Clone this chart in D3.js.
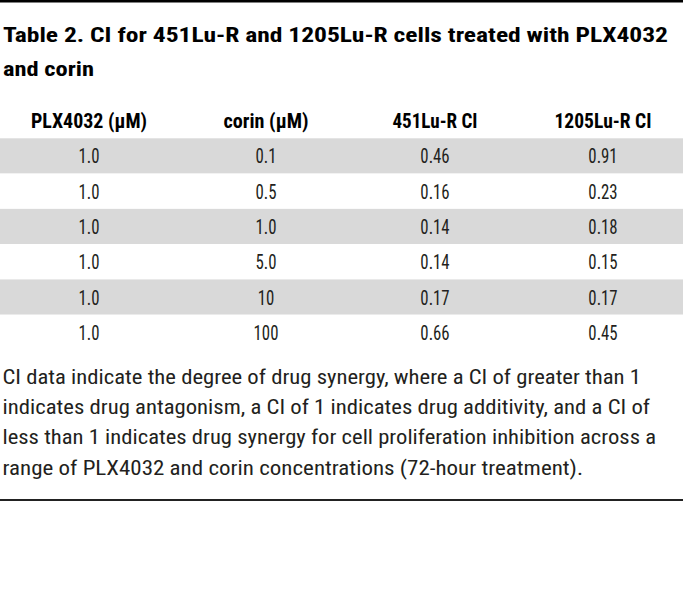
<!DOCTYPE html>
<html><head><meta charset="utf-8">
<script src="https://cdn.jsdelivr.net/npm/d3@7"></script>
<style>body{margin:0;background:#fff} svg{display:block}</style>
</head><body>
<script>
// ---- data ----
const titleLines = ["Table 2. CI for 451Lu-R and 1205Lu-R cells treated with PLX4032", "and corin"];
const columns = ["PLX4032 (µM)", "corin (µM)", "451Lu-R CI", "1205Lu-R CI"];
const plx4032 = ["1.0", "1.0", "1.0", "1.0", "1.0", "1.0"];
const corin = ["0.1", "0.5", "1.0", "5.0", "10", "100"];
const ci451 = ["0.46", "0.16", "0.14", "0.14", "0.17", "0.66"];
const ci1205 = ["0.91", "0.23", "0.18", "0.15", "0.17", "0.45"];
const captionLines = [
  "CI data indicate the degree of drug synergy, where a CI of greater than 1",
  "indicates drug antagonism, a CI of 1 indicates drug additivity, and a CI of",
  "less than 1 indicates drug synergy for cell proliferation inhibition across a",
  "range of PLX4032 and corin concentrations (72-hour treatment)."
];

// ---- layout ----
const W = 683, H = 599;
const FONT = "'Roboto Condensed','Liberation Sans Narrow',Roboto,'Liberation Sans',sans-serif";
const titleWidths = [665, 91];
const headerWidths = [116, 85, 85, 97];
const captionWidths = [638.5, 647.5, 653.5, 580.5];
const cellSqueeze = 0.8;
const FS = 21;

const rows = d3.range(plx4032.length).map(i => [plx4032[i], corin[i], ci451[i], ci1205[i]]);

const svg = d3.select("body").append("svg").attr("width", W).attr("height", H)
  .style("font-family", FONT);

const x = d3.scaleOrdinal().domain(d3.range(columns.length)).range([89, 266, 435, 603]);
const y = d3.scaleBand().domain(d3.range(rows.length)).range([138.3, 350]).padding(0);

// top rule
svg.append("rect").attr("x", 0).attr("y", 0).attr("width", W).attr("height", 2.5).attr("fill", "#000");

// title
svg.selectAll("text.title").data(titleLines).join("text")
  .attr("class", "title")
  .attr("x", 3).attr("y", (d, i) => 42 + i * 34)
  .attr("font-size", FS).attr("font-weight", 700).attr("fill", "#000")
  .attr("textLength", (d, i) => titleWidths[i]).attr("lengthAdjust", "spacingAndGlyphs")
  .text(d => d);

// header
svg.selectAll("text.head").data(columns).join("text")
  .attr("class", "head")
  .attr("x", (d, i) => x(i)).attr("y", 128)
  .attr("text-anchor", "middle")
  .attr("font-size", FS).attr("font-weight", 700).attr("fill", "#000")
  .attr("textLength", (d, i) => headerWidths[i]).attr("lengthAdjust", "spacingAndGlyphs")
  .text(d => d);

// row bands
svg.selectAll("rect.band").data(rows).join("rect")
  .attr("class", "band")
  .attr("x", 0).attr("width", W)
  .attr("y", (d, i) => y(i)).attr("height", y.bandwidth())
  .attr("fill", (d, i) => i % 2 === 0 ? "#d9d9d9" : "#fff");

// cells
const rowG = svg.selectAll("g.row").data(rows).join("g")
  .attr("class", "row")
  .attr("transform", (d, i) => `translate(0,${y(i) + y.bandwidth() / 2 + 7.5})`);
rowG.selectAll("text").data(d => d).join("text")
  .attr("x", (d, i) => x(i)).attr("y", 0)
  .attr("text-anchor", "middle")
  .attr("font-size", FS).attr("fill", "#231f20")
  .text(d => d)
  .each(function () {
    const w = this.getComputedTextLength();
    d3.select(this).attr("textLength", w * cellSqueeze).attr("lengthAdjust", "spacingAndGlyphs");
  });

// caption
svg.selectAll("text.cap").data(captionLines).join("text")
  .attr("class", "cap")
  .attr("x", 2.5).attr("y", (d, i) => 384 + i * 30.2)
  .attr("font-size", FS).attr("fill", "#231f20")
  .attr("textLength", (d, i) => captionWidths[i]).attr("lengthAdjust", "spacingAndGlyphs")
  .text(d => d);

// bottom rule
svg.append("rect").attr("x", 0).attr("y", 499).attr("width", W).attr("height", 2).attr("fill", "#222");
</script>
</body></html>
